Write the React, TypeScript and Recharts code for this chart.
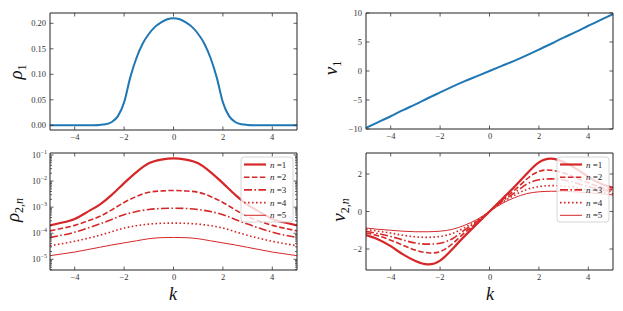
import { LineChart, Line, XAxis, YAxis } from "recharts";

// k grid for the smooth top-left curve and for the others
const K_FINE = [
  -5, -4.75, -4.5, -4.25, -4, -3.75, -3.5, -3.25, -3, -2.75, -2.5, -2.25, -2, -1.75, -1.5, -1.25, -1, -0.75, -0.5,
  -0.25, 0, 0.25, 0.5, 0.75, 1, 1.25, 1.5, 1.75, 2, 2.25, 2.5, 2.75, 3, 3.25, 3.5, 3.75, 4, 4.25, 4.5, 4.75, 5,
];
const K = [-5, -4.5, -4, -3.5, -3, -2.5, -2, -1.5, -1, -0.5, 0, 0.5, 1, 1.5, 2, 2.5, 3, 3.5, 4, 4.5, 5];

const RHO1 = [
  0, 0, 0, 0, 0, 0, 0.0001, 0.0003, 0.0008, 0.002, 0.0065, 0.018, 0.045, 0.094, 0.132, 0.16, 0.179, 0.193, 0.202,
  0.208, 0.21, 0.208, 0.202, 0.193, 0.179, 0.16, 0.132, 0.094, 0.045, 0.018, 0.0065, 0.002, 0.0008, 0.0003, 0.0001,
  0, 0, 0, 0, 0, 0,
];
const V1 = [
  -9.8, -8.8, -7.8, -6.75, -5.75, -4.7, -3.7, -2.7, -1.75, -0.88, 0, 0.88, 1.75, 2.7, 3.7, 4.7, 5.75, 6.75, 7.8, 8.8,
  9.8,
];

const RHO2_N1 = [
  2.0e-4, 2.57e-4, 3.55e-4, 6.46e-4, 1.23e-3, 2.95e-3, 8.3e-3, 0.0219, 0.0479, 0.0661, 0.0741, 0.0661, 0.0479, 0.0219,
  8.3e-3, 2.95e-3, 1.23e-3, 6.46e-4, 3.55e-4, 2.57e-4, 2.0e-4,
];
const RHO2_N2 = [
  1.23e-4, 1.55e-4, 2.0e-4, 2.88e-4, 4.37e-4, 7.9e-4, 1.51e-3, 2.57e-3, 3.72e-3, 4.17e-3, 4.37e-3, 4.17e-3, 3.72e-3,
  2.57e-3, 1.51e-3, 7.9e-4, 4.37e-4, 2.88e-4, 2.0e-4, 1.55e-4, 1.23e-4,
];
const RHO2_N3 = [
  6.9e-5, 8.5e-5, 1.1e-4, 1.55e-4, 2.24e-4, 3.39e-4, 5.13e-4, 6.76e-4, 8.13e-4, 8.91e-4, 9.12e-4, 8.91e-4, 8.13e-4,
  6.76e-4, 5.13e-4, 3.39e-4, 2.24e-4, 1.55e-4, 1.1e-4, 8.5e-5, 6.9e-5,
];
const RHO2_N4 = [
  3.3e-5, 4.0e-5, 4.9e-5, 6.3e-5, 8.3e-5, 1.15e-4, 1.58e-4, 1.95e-4, 2.24e-4, 2.4e-4, 2.45e-4, 2.4e-4, 2.24e-4,
  1.95e-4, 1.58e-4, 1.15e-4, 8.3e-5, 6.3e-5, 4.9e-5, 4.0e-5, 3.3e-5,
];
const RHO2_N5 = [
  1.38e-5, 1.62e-5, 1.9e-5, 2.34e-5, 2.88e-5, 3.55e-5, 4.27e-5, 5.13e-5, 6.17e-5, 6.76e-5, 6.92e-5, 6.76e-5, 6.17e-5,
  5.13e-5, 4.27e-5, 3.55e-5, 2.88e-5, 2.34e-5, 1.9e-5, 1.62e-5, 1.38e-5,
];

const V2_N1 = [
  -1.26, -1.49, -1.85, -2.29, -2.64, -2.82, -2.62, -2.0, -1.3, -0.65, 0, 0.65, 1.3, 2.0, 2.62, 2.82, 2.64, 2.29, 1.85,
  1.49, 1.26,
];
const V2_N2 = [
  -1.14, -1.3, -1.53, -1.8, -2.06, -2.2, -2.14, -1.72, -1.12, -0.6, 0, 0.6, 1.12, 1.72, 2.14, 2.2, 2.06, 1.8, 1.53,
  1.3, 1.14,
];
const V2_N3 = [
  -1.05, -1.18, -1.33, -1.52, -1.68, -1.74, -1.69, -1.45, -0.98, -0.53, 0, 0.53, 0.98, 1.45, 1.69, 1.74, 1.68, 1.52,
  1.33, 1.18, 1.05,
];
const V2_N4 = [
  -0.95, -1.05, -1.15, -1.27, -1.35, -1.38, -1.33, -1.17, -0.86, -0.48, 0, 0.48, 0.86, 1.17, 1.33, 1.38, 1.35, 1.27,
  1.15, 1.05, 0.95,
];
const V2_N5 = [
  -0.88, -0.95, -1.0, -1.05, -1.08, -1.08, -1.05, -0.95, -0.73, -0.42, 0, 0.42, 0.73, 0.95, 1.05, 1.08, 1.08, 1.05,
  1.0, 0.95, 0.88,
];

const X_TICKS = [-4, -2, 0, 2, 4];
const RHO1_TICKS = [0, 0.05, 0.1, 0.15, 0.2];
const V1_TICKS = [-10, -5, 0, 5, 10];
const V2_TICKS = [-2, 0, 2];
const LOG_MAJOR = [1e-5, 1e-4, 1e-3, 1e-2, 1e-1];
const LOG_MINOR_STEPS = [2, 3, 4, 5, 6, 7, 8, 9];
const LOG_DECADES = [1e-6, 1e-5, 1e-4, 1e-3, 1e-2];

const N_LABELS = ["1", "2", "3", "4", "5"];
const N_KEYS = ["n1", "n2", "n3", "n4", "n5"];
const N_DASH = [undefined, "5.5 2.4", "8 2.4 1.6 2.4", "1.6 2.4", undefined];
const N_WIDTH = [2.2, 1.6, 1.6, 1.6, 1.0];

const BLUE = "#1f77b4";
const RED = "#d62728";
const INK = "#333";
const FONT = "'Liberation Serif', 'DejaVu Serif', serif";

const LOG_TICKS = [
  ...LOG_MAJOR,
  ...LOG_DECADES.flatMap((d) => LOG_MINOR_STEPS.map((s) => s * d)).filter((v) => v > 3.9e-6 && v < 0.119),
].sort((a, b) => a - b);

const rho1Data = K_FINE.map((k, i) => ({ k, v: RHO1[i] }));
const v1Data = K.map((k, i) => ({ k, v: V1[i] }));
const rho2Data = K.map((k, i) => ({
  k,
  n1: RHO2_N1[i],
  n2: RHO2_N2[i],
  n3: RHO2_N3[i],
  n4: RHO2_N4[i],
  n5: RHO2_N5[i],
}));
const v2Data = K.map((k, i) => ({ k, n1: V2_N1[i], n2: V2_N2[i], n3: V2_N3[i], n4: V2_N4[i], n5: V2_N5[i] }));

const minus = (s: string) => s.replace("-", "\u2212");
const fmtInt = (v: number) => minus(String(v));
const fmt2 = (v: number) => minus(v.toFixed(2));

type Side = "left" | "right" | "top" | "bottom";

const isDecade = (v: number) => LOG_MAJOR.some((m) => Math.abs(v / m - 1) < 1e-6);

function logLabel(v: number) {
  return minus(String(Math.round(Math.log10(v))));
}

// tick mark drawn inwards, with optional label outside
function tickRenderer(side: Side, label?: (v: number) => string, log = false) {
  return (p: any) => {
    const { x, y, payload } = p;
    const v = payload.value as number;
    const major = log ? isDecade(v) : true;
    const L = major ? 3.5 : 2;
    let line;
    if (side === "bottom") line = <line x1={x} y1={y} x2={x} y2={y - L} />;
    else if (side === "top") line = <line x1={x} y1={y} x2={x} y2={y + L} />;
    else if (side === "left") line = <line x1={x} y1={y} x2={x + L} y2={y} />;
    else line = <line x1={x} y1={y} x2={x - L} y2={y} />;
    let text = null;
    if (label && major) {
      if (side === "bottom") {
        text = (
          <text
            x={Math.round(x)}
            y={Math.round(y + 10)}
            textAnchor="middle"
            fill={INK}
            stroke="none"
            fontSize={8.5}
            fontFamily={FONT}
          >
            {label(v)}
          </text>
        );
      } else if (log) {
        text = (
          <text x={x - 3} y={y + 3} textAnchor="end" fill={INK} stroke="none" fontSize={8.5} fontFamily={FONT}>
            <tspan>10</tspan>
            <tspan dy={-4} fontSize={6}>
              {logLabel(v)}
            </tspan>
          </text>
        );
      } else {
        text = (
          <text x={x - 4} y={y + 3} textAnchor="end" fill={INK} stroke="none" fontSize={8.5} fontFamily={FONT}>
            {label(v)}
          </text>
        );
      }
    }
    return (
      <g>
        <g stroke={INK} strokeWidth={0.8}>
          {line}
        </g>
        {text}
      </g>
    );
  };
}

const axisLine = { stroke: "#222", strokeWidth: 1 };

function frameAxes(yDomain: number[], yTicks: number[], leftWidth: number, bottomHeight: number, yFmt: any, log = false) {
  return [
    <XAxis
      key="xb"
      xAxisId="b"
      dataKey="k"
      type="number"
      domain={[-5, 5]}
      ticks={X_TICKS}
      interval={0}
      height={bottomHeight}
      tickSize={0}
      tickMargin={0}
      tickLine={false}
      axisLine={axisLine}
      tick={tickRenderer("bottom", fmtInt)}
      allowDataOverflow
    />,
    <XAxis
      key="xt"
      xAxisId="t"
      dataKey="k"
      type="number"
      orientation="top"
      domain={[-5, 5]}
      ticks={X_TICKS}
      interval={0}
      height={1}
      tickSize={0}
      tickMargin={0}
      tickLine={false}
      axisLine={axisLine}
      tick={tickRenderer("top")}
      allowDataOverflow
    />,
    <YAxis
      key="yl"
      yAxisId="l"
      type="number"
      scale={log ? "log" : "linear"}
      domain={yDomain}
      ticks={yTicks}
      interval={0}
      width={leftWidth}
      tickSize={0}
      tickMargin={0}
      tickLine={false}
      axisLine={axisLine}
      tick={tickRenderer("left", yFmt, log)}
      allowDataOverflow
    />,
    <YAxis
      key="yr"
      yAxisId="r"
      type="number"
      orientation="right"
      scale={log ? "log" : "linear"}
      domain={yDomain}
      ticks={yTicks}
      interval={0}
      width={1}
      tickSize={0}
      tickMargin={0}
      tickLine={false}
      axisLine={axisLine}
      tick={tickRenderer("right", undefined, log)}
      allowDataOverflow
    />,
  ];
}

function redLines() {
  return N_KEYS.map((key, i) => (
    <Line
      key={key}
      xAxisId="b"
      yAxisId="l"
      dataKey={key}
      type="natural"
      stroke={RED}
      strokeWidth={N_WIDTH[i]}
      strokeDasharray={N_DASH[i]}
      dot={false}
      isAnimationActive={false}
    />
  ));
}

function Legend({ x, y }: { x: number; y: number }) {
  return (
    <g>
      <rect x={x} y={y} width={52} height={65} rx={3} fill="#fff" fillOpacity={0.8} stroke="#ccc" strokeWidth={0.8} />
      {N_LABELS.map((n, i) => {
        const cy = y + 7.5 + i * 12.7;
        return (
          <g key={n}>
            <line
              x1={x + 3}
              x2={x + 25}
              y1={cy}
              y2={cy}
              stroke={RED}
              strokeWidth={N_WIDTH[i]}
              strokeDasharray={N_DASH[i]}
            />
            <text x={x + 29} y={cy + 3} fontSize={9} fontFamily={FONT} fill="#222">
              <tspan fontStyle="italic">n</tspan>
              <tspan> ={n}</tspan>
            </text>
          </g>
        );
      })}
    </g>
  );
}

function YTitle({ x, y, main, sub, subItalic }: { x: number; y: number; main: string; sub: string; subItalic?: string }) {
  return (
    <text
      x={x}
      y={y}
      transform={`rotate(-90 ${x} ${y})`}
      textAnchor="middle"
      fontFamily={FONT}
      fontSize={19}
      fill="#111"
    >
      <tspan fontStyle="italic">{main}</tspan>
      <tspan fontSize={12} dy={4}>
        {sub}
      </tspan>
      {subItalic ? (
        <tspan fontSize={12} fontStyle="italic">
          {subItalic}
        </tspan>
      ) : null}
    </text>
  );
}

export default function App() {
  return (
    <div style={{ position: "fixed", left: 0, top: 0, width: 623, height: 311, background: "#fff" }}>
      <div style={{ position: "absolute", left: 0, top: 0 }}>
        <LineChart width={310} height={150} data={rho1Data} margin={{ top: 12, right: 12, bottom: 0, left: 0 }}>
          {frameAxes([-0.0092, 0.2202], RHO1_TICKS, 50, 20, fmt2)}
          <Line
            xAxisId="b"
            yAxisId="l"
            dataKey="v"
            type="monotone"
            stroke={BLUE}
            strokeWidth={2}
            dot={false}
            isAnimationActive={false}
          />
        </LineChart>
      </div>
      <div style={{ position: "absolute", left: 310, top: 0 }}>
        <LineChart width={313} height={150} data={v1Data} margin={{ top: 12, right: 9, bottom: 0, left: 0 }}>
          {frameAxes([-10, 10], V1_TICKS, 56, 21, fmtInt)}
          <Line
            xAxisId="b"
            yAxisId="l"
            dataKey="v"
            type="natural"
            stroke={BLUE}
            strokeWidth={2}
            dot={false}
            isAnimationActive={false}
          />
        </LineChart>
      </div>
      <div style={{ position: "absolute", left: 0, top: 140 }}>
        <LineChart width={310} height={171} data={rho2Data} margin={{ top: 12, right: 12, bottom: 0, left: 0 }}>
          {frameAxes([3.9e-6, 0.119], LOG_TICKS, 50, 41, logLabel, true)}
          {redLines()}
        </LineChart>
      </div>
      <div style={{ position: "absolute", left: 310, top: 140 }}>
        <LineChart width={313} height={171} data={v2Data} margin={{ top: 12, right: 9, bottom: 0, left: 0 }}>
          {frameAxes([-3.12, 3.12], V2_TICKS, 56, 41, fmtInt)}
          {redLines()}
        </LineChart>
      </div>
      <svg width={623} height={311} style={{ position: "absolute", left: 0, top: 0, pointerEvents: "none" }}>
        <YTitle x={22} y={72} main="ρ" sub="1" />
        <YTitle x={337} y={68} main="v" sub="1" />
        <YTitle x={19} y={210} main="ρ" sub="2," subItalic="n" />
        <YTitle x={345} y={210} main="v" sub="2," subItalic="n" />
        <text x={173} y={300} textAnchor="middle" fontFamily={FONT} fontSize={18} fontStyle="italic" fill="#111">
          k
        </text>
        <text x={490} y={300} textAnchor="middle" fontFamily={FONT} fontSize={18} fontStyle="italic" fill="#111">
          k
        </text>
        <Legend x={241} y={157} />
        <Legend x={557} y={157} />
      </svg>
    </div>
  );
}
